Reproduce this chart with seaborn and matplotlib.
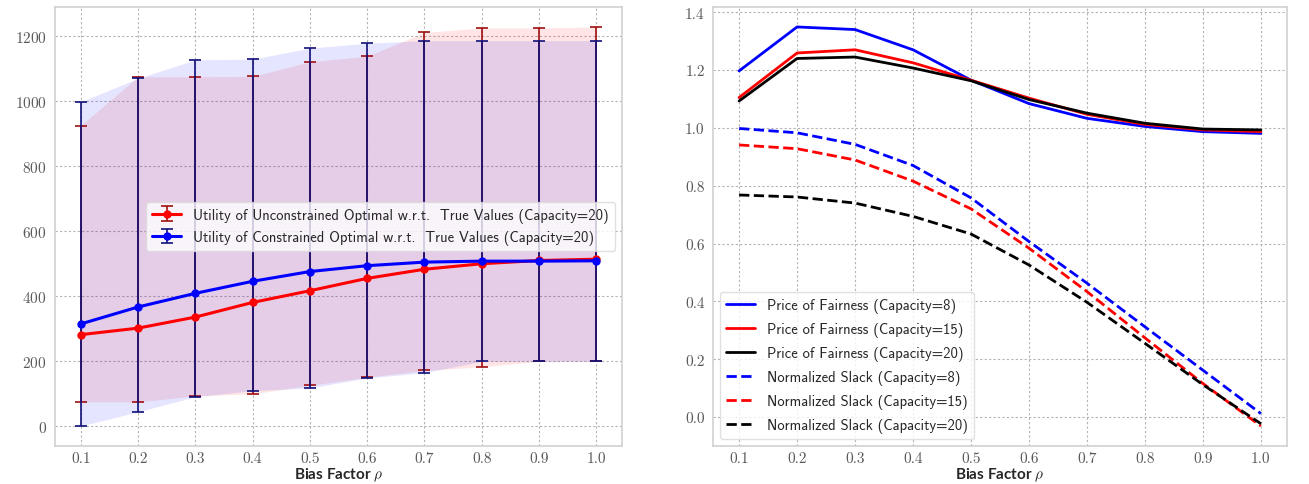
import matplotlib
matplotlib.use("Agg")
import matplotlib.pyplot as plt
import numpy as np
import pandas as pd
import seaborn as sns

# Bias factor values shared by both panels
bias = [0.1, 0.2, 0.3, 0.4, 0.5, 0.6, 0.7, 0.8, 0.9, 1.0]

# Left panel: utility w.r.t. true values (capacity 20), mean with min/max range
unc_mean = [281, 301, 335, 380, 416, 454, 482, 499, 509, 513]
unc_low = [74, 74, 93, 99, 125, 150, 171, 182, 199, 199]
unc_high = [924, 1074, 1074, 1075, 1120, 1137, 1210, 1224, 1224, 1227]

con_mean = [314, 366, 408, 445, 475, 493, 504, 507, 507, 508]
con_low = [0, 44, 90, 109, 117, 148, 164, 199, 199, 199]
con_high = [997, 1069, 1126, 1128, 1162, 1177, 1185, 1185, 1185, 1185]

# Right panel: price of fairness and normalized slack per capacity
pof_cap8 = [1.197, 1.349, 1.340, 1.270, 1.165, 1.084, 1.033, 1.005, 0.987, 0.981]
pof_cap15 = [1.105, 1.259, 1.270, 1.225, 1.165, 1.103, 1.047, 1.012, 0.993, 0.987]
pof_cap20 = [1.093, 1.240, 1.245, 1.207, 1.163, 1.098, 1.051, 1.016, 0.996, 0.993]
slack_cap8 = [0.998, 0.983, 0.943, 0.870, 0.758, 0.607, 0.463, 0.312, 0.162, 0.012]
slack_cap15 = [0.941, 0.928, 0.889, 0.816, 0.720, 0.584, 0.434, 0.274, 0.116, -0.031]
slack_cap20 = [0.768, 0.761, 0.740, 0.694, 0.633, 0.526, 0.397, 0.255, 0.112, -0.023]

x_ticks = [0.1, 0.2, 0.3, 0.4, 0.5, 0.6, 0.7, 0.8, 0.9, 1.0]
x_tick_labels = ["0.1", "0.2", "0.3", "0.4", "0.5", "0.6", "0.7", "0.8", "0.9", "1.0"]
left_y_ticks = [0, 200, 400, 600, 800, 1000, 1200]
right_y_ticks = [0.0, 0.2, 0.4, 0.6, 0.8, 1.0, 1.2, 1.4]

sns.set_style("whitegrid")
plt.rcParams["font.family"] = ["cmr10", "DejaVu Serif"]
plt.rcParams["mathtext.fontset"] = "cm"
plt.rcParams["axes.formatter.use_mathtext"] = True
plt.rcParams["axes.unicode_minus"] = False

fig = plt.figure(figsize=(13.09, 4.85), dpi=100)
W, H = 1309.0, 485.0
ax1 = fig.add_axes([55 / W, (H - 447) / H, 567 / W, 439 / H])
ax2 = fig.add_axes([713 / W, (H - 447) / H, 574 / W, 439 / H])

legend_font = {"family": "cmss10", "size": 10.5}
label_font = dict(fontfamily=["Lato", "DejaVu Sans"], fontweight="bold", fontsize=11)

# ---- Left panel ----
x = np.array(bias)
ax1.fill_between(x, unc_low, unc_high, color="red", alpha=0.1, lw=0)
ax1.fill_between(x, con_low, con_high, color="blue", alpha=0.1, lw=0)

unc_err = [np.array(unc_mean) - np.array(unc_low), np.array(unc_high) - np.array(unc_mean)]
con_err = [np.array(con_mean) - np.array(con_low), np.array(con_high) - np.array(con_mean)]

ax1.errorbar(x, unc_mean, yerr=unc_err, color="red", ecolor="#a01010", elinewidth=1.2,
             capsize=4.5, capthick=1.2, lw=2.2, marker="o", ms=5,
             label="Utility of Unconstrained Optimal w.r.t.  True Values (Capacity=20)")
ax1.errorbar(x, con_mean, yerr=con_err, color="blue", ecolor="#10107a", elinewidth=1.2,
             capsize=4.5, capthick=1.2, lw=2.2, marker="o", ms=5,
             label="Utility of Constrained Optimal w.r.t.  True Values (Capacity=20)")

ax1.set_xticks(x_ticks)
ax1.set_xticklabels(x_tick_labels)
ax1.set_yticks(left_y_ticks)
ax1.set_xlabel(r"Bias Factor $\rho$", labelpad=0, **label_font)
ax1.legend(loc="center right", prop=legend_font, framealpha=0.8, edgecolor="0.85")

# ---- Right panel ----
right_series = [
    ("Price of Fairness (Capacity=8)", pof_cap8, "blue", "-"),
    ("Price of Fairness (Capacity=15)", pof_cap15, "red", "-"),
    ("Price of Fairness (Capacity=20)", pof_cap20, "black", "-"),
    ("Normalized Slack (Capacity=8)", slack_cap8, "blue", "--"),
    ("Normalized Slack (Capacity=15)", slack_cap15, "red", "--"),
    ("Normalized Slack (Capacity=20)", slack_cap20, "black", "--"),
]
for name, vals, col, ls in right_series:
    df = pd.DataFrame({"bias": bias, "value": vals})
    sns.lineplot(data=df, x="bias", y="value", color=col, linestyle=ls, lw=2,
                 label=name, ax=ax2)

ax2.set_xticks(x_ticks)
ax2.set_xticklabels(x_tick_labels)
ax2.set_yticks(right_y_ticks)
ax2.set_yticklabels([f"{v:.1f}" for v in right_y_ticks])
ax2.set_ylabel("")
ax2.set_xlabel(r"Bias Factor $\rho$", labelpad=0, **label_font)
ax2.legend(loc="lower left", prop=legend_font, framealpha=0.8, edgecolor="0.85",
           labelspacing=0.62)

for ax in (ax1, ax2):
    ax.grid(True, linestyle=(0, (2, 2)), color="0.7", lw=0.8)
    ax.set_axisbelow(True)
    for s in ax.spines.values():
        s.set_color("0.82")
        s.set_linewidth(1.2)
    ax.tick_params(axis="x", labelsize=11, labelcolor="0.35", length=0, pad=4)
    ax.tick_params(axis="y", labelsize=11, labelcolor="0.35", length=0, pad=6)

fig.savefig("out.png", dpi=100)
